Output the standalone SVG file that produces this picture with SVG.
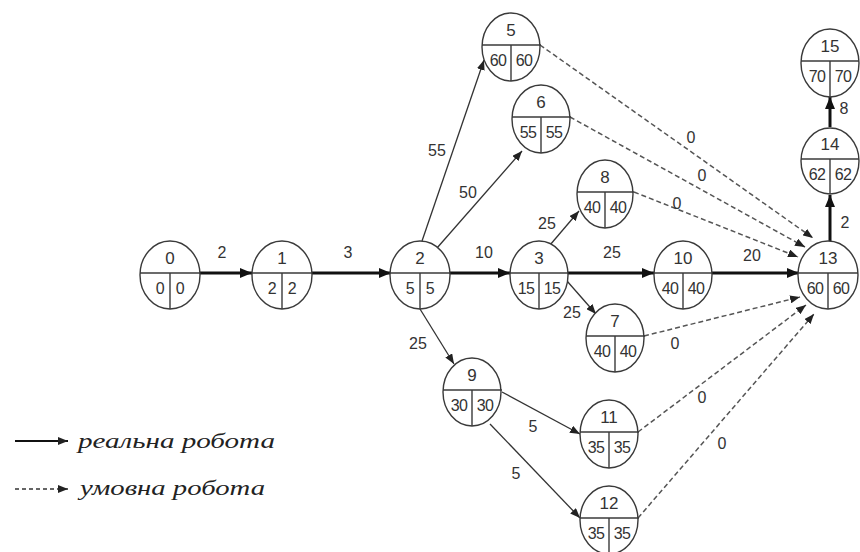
<svg xmlns="http://www.w3.org/2000/svg" width="860" height="552" viewBox="0 0 860 552">
<style>
.node ellipse{fill:#fff;stroke:#3a3a3a;stroke-width:1.4}
.node line{stroke:#3a3a3a;stroke-width:1.4}
.node text{font-family:"Liberation Sans","DejaVu Sans",sans-serif;fill:#333;text-anchor:middle}
.node .top{font-size:17px}
.node .bot{font-size:16px;letter-spacing:-0.6px}
.bold{stroke:#111;stroke-width:3;fill:none;marker-end:url(#ahb)}
.thin{stroke:#333;stroke-width:1.3;fill:none;marker-end:url(#ah)}
.dash{stroke:#555;stroke-width:1.5;stroke-dasharray:5 3;fill:none;marker-end:url(#ah)}
.lbl{font-family:"Liberation Sans","DejaVu Sans",sans-serif;font-size:16px;fill:#333;text-anchor:middle}
.leg{font-family:"Liberation Serif","DejaVu Serif",serif;font-style:italic;font-size:22px;fill:#222}
</style>
<defs>
<marker id="ah" markerWidth="10" markerHeight="8" refX="10" refY="4" orient="auto" markerUnits="userSpaceOnUse"><path d="M0,0 L10,4 L0,8 z" fill="#222"/></marker>
<marker id="ahb" markerWidth="12" markerHeight="10" refX="12" refY="5" orient="auto" markerUnits="userSpaceOnUse"><path d="M0,0 L12,5 L0,10 z" fill="#111"/></marker>
</defs>
<g id="connectors">
<path class="bold" d="M200,273 L252,273"/>
<path class="bold" d="M311,273 L391,273"/>
<path class="bold" d="M449,273 L510,273"/>
<path class="bold" d="M568,273 L654,273"/>
<path class="bold" d="M712,273 L799,273"/>
<path class="bold" d="M830,241 L830,195"/>
<path class="bold" d="M830,127 L830,97"/>
<path class="thin" d="M422,241 L484,60"/>
<path class="thin" d="M437,248 L522,151"/>
<path class="thin" d="M550,245 L579,211"/>
<path class="thin" d="M567,281 L596,314"/>
<path class="thin" d="M420,309 L454,364"/>
<path class="thin" d="M502,392 L580,434"/>
<path class="thin" d="M490,424 L580,518"/>
<path class="dash" d="M540,45 L813,238"/>
<path class="dash" d="M570,117 L805,247"/>
<path class="dash" d="M634,192 L798,257"/>
<path class="dash" d="M644,336 L800,297"/>
<path class="dash" d="M638,432 L806,305"/>
<path class="dash" d="M638,518 L814,314"/>
<text class="lbl" x="222" y="258">2</text>
<text class="lbl" x="348" y="258">3</text>
<text class="lbl" x="484" y="258">10</text>
<text class="lbl" x="612" y="258">25</text>
<text class="lbl" x="752" y="261">20</text>
<text class="lbl" x="547" y="229">25</text>
<text class="lbl" x="572" y="318">25</text>
<text class="lbl" x="437" y="156">55</text>
<text class="lbl" x="468" y="198">50</text>
<text class="lbl" x="418" y="349">25</text>
<text class="lbl" x="533" y="432">5</text>
<text class="lbl" x="516" y="479">5</text>
<text class="lbl" x="845" y="228">2</text>
<text class="lbl" x="844" y="114">8</text>
<text class="lbl" x="691" y="143">0</text>
<text class="lbl" x="702" y="181">0</text>
<text class="lbl" x="677" y="209">0</text>
<text class="lbl" x="675" y="349">0</text>
<text class="lbl" x="702" y="403">0</text>
<text class="lbl" x="722" y="449">0</text>
</g>
<g id="n0" class="node" transform="translate(170,273)"><ellipse cx="0" cy="2" rx="30" ry="34"/><line x1="-30" y1="0" x2="30" y2="0"/><line x1="0" y1="0" x2="0" y2="36"/><text class="top" x="0" y="-9">0</text><text class="bot" x="-10" y="21">0</text><text class="bot" x="10" y="21">0</text></g>
<g id="n1" class="node" transform="translate(282,273)"><ellipse cx="0" cy="2" rx="30" ry="34"/><line x1="-30" y1="0" x2="30" y2="0"/><line x1="0" y1="0" x2="0" y2="36"/><text class="top" x="0" y="-9">1</text><text class="bot" x="-10" y="21">2</text><text class="bot" x="10" y="21">2</text></g>
<g id="n2" class="node" transform="translate(420,273)"><ellipse cx="0" cy="2" rx="30" ry="34"/><line x1="-30" y1="0" x2="30" y2="0"/><line x1="0" y1="0" x2="0" y2="36"/><text class="top" x="0" y="-9">2</text><text class="bot" x="-10" y="21">5</text><text class="bot" x="10" y="21">5</text></g>
<g id="n3" class="node" transform="translate(539,273)"><ellipse cx="0" cy="2" rx="29" ry="34"/><line x1="-29" y1="0" x2="29" y2="0"/><line x1="0" y1="0" x2="0" y2="36"/><text class="top" x="0" y="-9">3</text><text class="bot" x="-13" y="21">15</text><text class="bot" x="13" y="21">15</text></g>
<g id="n10" class="node" transform="translate(683,273)"><ellipse cx="0" cy="2" rx="29" ry="34"/><line x1="-29" y1="0" x2="29" y2="0"/><line x1="0" y1="0" x2="0" y2="36"/><text class="top" x="0" y="-9">10</text><text class="bot" x="-13" y="21">40</text><text class="bot" x="13" y="21">40</text></g>
<g id="n13" class="node" transform="translate(828,273)"><ellipse cx="0" cy="2" rx="30" ry="34"/><line x1="-30" y1="0" x2="30" y2="0"/><line x1="0" y1="0" x2="0" y2="36"/><text class="top" x="0" y="-9">13</text><text class="bot" x="-13" y="21">60</text><text class="bot" x="13" y="21">60</text></g>
<g id="n8" class="node" transform="translate(605,192)"><ellipse cx="0" cy="2" rx="28" ry="34"/><line x1="-28" y1="0" x2="29" y2="0"/><line x1="0" y1="0" x2="0" y2="36"/><text class="top" x="0" y="-9">8</text><text class="bot" x="-13" y="21">40</text><text class="bot" x="13" y="21">40</text></g>
<g id="n7" class="node" transform="translate(615,336)"><ellipse cx="0" cy="2" rx="29" ry="34"/><line x1="-29" y1="0" x2="30" y2="0"/><line x1="0" y1="0" x2="0" y2="36"/><text class="top" x="0" y="-9">7</text><text class="bot" x="-13" y="21">40</text><text class="bot" x="13" y="21">40</text></g>
<g id="n5" class="node" transform="translate(511,45)"><ellipse cx="0" cy="2" rx="29" ry="34"/><line x1="-29" y1="0" x2="30" y2="0"/><line x1="0" y1="0" x2="0" y2="36"/><text class="top" x="0" y="-9">5</text><text class="bot" x="-13" y="21">60</text><text class="bot" x="13" y="21">60</text></g>
<g id="n6" class="node" transform="translate(541,117)"><ellipse cx="0" cy="2" rx="29" ry="34"/><line x1="-29" y1="0" x2="30" y2="0"/><line x1="0" y1="0" x2="0" y2="36"/><text class="top" x="0" y="-9">6</text><text class="bot" x="-13" y="21">55</text><text class="bot" x="13" y="21">55</text></g>
<g id="n9" class="node" transform="translate(472,390)"><ellipse cx="0" cy="2" rx="29" ry="34"/><line x1="-29" y1="0" x2="30" y2="0"/><line x1="0" y1="0" x2="0" y2="36"/><text class="top" x="0" y="-9">9</text><text class="bot" x="-13" y="21">30</text><text class="bot" x="13" y="21">30</text></g>
<g id="n11" class="node" transform="translate(609,432)"><ellipse cx="0" cy="2" rx="29" ry="34"/><line x1="-29" y1="0" x2="30" y2="0"/><line x1="0" y1="0" x2="0" y2="36"/><text class="top" x="0" y="-9">11</text><text class="bot" x="-13" y="21">35</text><text class="bot" x="13" y="21">35</text></g>
<g id="n12" class="node" transform="translate(609,518)"><ellipse cx="0" cy="2" rx="29" ry="34"/><line x1="-29" y1="0" x2="30" y2="0"/><line x1="0" y1="0" x2="0" y2="36"/><text class="top" x="0" y="-9">12</text><text class="bot" x="-13" y="21">35</text><text class="bot" x="13" y="21">35</text></g>
<g id="n14" class="node" transform="translate(830,159)"><ellipse cx="0" cy="2" rx="29" ry="33"/><line x1="-29" y1="0" x2="29" y2="0"/><line x1="0" y1="0" x2="0" y2="35"/><text class="top" x="0" y="-9">14</text><text class="bot" x="-13" y="21">62</text><text class="bot" x="13" y="21">62</text></g>
<g id="n15" class="node" transform="translate(830,61)"><ellipse cx="0" cy="2" rx="29" ry="34"/><line x1="-29" y1="0" x2="29" y2="0"/><line x1="0" y1="0" x2="0" y2="36"/><text class="top" x="0" y="-9">15</text><text class="bot" x="-13" y="21">70</text><text class="bot" x="13" y="21">70</text></g>
<g id="legend">
<path class="thin" d="M15,441 L68,441" style="stroke:#111;stroke-width:1.8"/>
<text class="leg" x="78" y="448" textLength="197" lengthAdjust="spacingAndGlyphs">реальна робота</text>
<path class="dash" d="M15,489 L68,489" style="stroke:#333;stroke-dasharray:4 3"/>
<text class="leg" x="80" y="495" textLength="185" lengthAdjust="spacingAndGlyphs">умовна робота</text>
</g>
</svg>
